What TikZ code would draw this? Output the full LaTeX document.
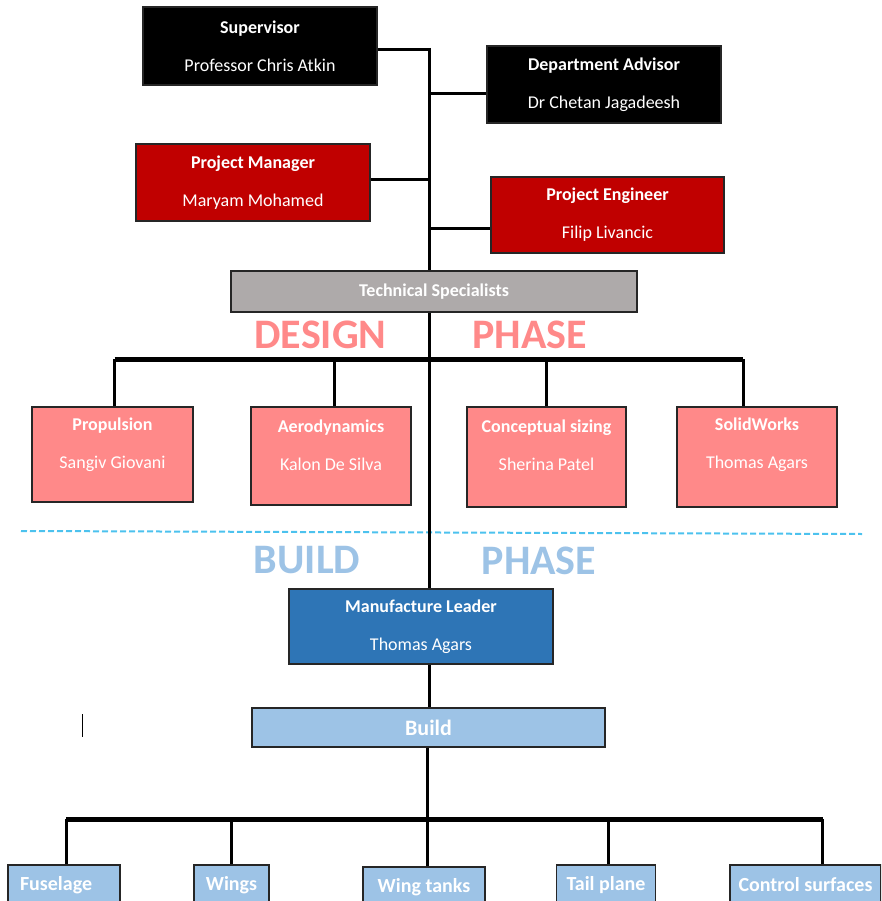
\documentclass[tikz,border=0pt]{standalone}
\usepackage{fontspec}
\setmainfont{Carlito}
\usepackage{xcolor}
\usepackage{tikz}
\usetikzlibrary{positioning}
\definecolor{darkred}{HTML}{C00000}
\definecolor{techgrey}{HTML}{AEAAAA}
\definecolor{designpink}{HTML}{FF8989}
\definecolor{mfgblue}{HTML}{2E75B6}
\definecolor{buildblue}{HTML}{9DC3E6}
\definecolor{dashblue}{HTML}{4CC2EE}

\begin{document}
\begin{tikzpicture}[x=1pt, y=-1pt,
    orgbox/.style={draw=black!85, line width=1.3pt, text=white, align=center, inner sep=0pt,
        font=\fontsize{18}{38}\selectfont},
    boxtext/.style={text=white, align=center, inner sep=0pt, font=\fontsize{18}{38}\selectfont},
    link/.style={line width=3pt},
    bar/.style={line width=5pt},
    phase/.style={inner sep=0pt, font=\fontsize{42}{42}\selectfont\bfseries}]
    \useasboundingbox (0,0) rectangle (881,901);
    \clip (0,0) rectangle (881,901);

    % management
    \node[orgbox, fill=black, minimum width=234, minimum height=78] (sup) at (260,46)
        {\textbf{Supervisor}\\Professor Chris Atkin};
    \node[orgbox, fill=black, minimum width=234, minimum height=77] (dept) at (604,84.5)
        {\textbf{Department Advisor}\\Dr Chetan Jagadeesh};
    \node[orgbox, fill=darkred, minimum width=234, minimum height=77] (pm) at (253,182.5)
        {\textbf{Project Manager}\\Maryam Mohamed};
    \node[orgbox, fill=darkred, minimum width=233, minimum height=76] (pe) at (607.5,215)
        {\textbf{Project Engineer}\\Filip Livancic};
    \node[orgbox, fill=techgrey, minimum width=406, minimum height=41] (tech) at (434,291.5)
        {\textbf{Technical Specialists}};

    \coordinate (top) at (429,48);
    \coordinate (jsup) at (429,50);
    \coordinate (jdept) at (429,94);
    \coordinate (jpm) at (429,180);
    \coordinate (jpe) at (429,229);
    \draw[link] (top) -- (top |- tech.north);
    \draw[link] (jsup) -- (jsup -| sup.east);
    \draw[link] (jdept) -- (jdept -| dept.west);
    \draw[link] (jpm) -- (jpm -| pm.east);
    \draw[link] (jpe) -- (jpe -| pe.west);

    % design phase
    \node[phase, text=designpink] (design) at (320.5,335) {DESIGN};
    \node[phase, text=designpink] (dphase) at (529.5,335) {PHASE};

    \node[orgbox, fill=designpink, minimum width=161, minimum height=95] (prop) at (112.5,454.5) {};
    \node[orgbox, fill=designpink, minimum width=160, minimum height=98] (aero) at (331,456) {};
    \node[orgbox, fill=designpink, minimum width=159, minimum height=100] (size) at (546.5,457) {};
    \node[orgbox, fill=designpink, minimum width=160, minimum height=100] (solid) at (757,457) {};
    \node[boxtext] (propT) at (112.5,445) {\textbf{Propulsion}\\Sangiv Giovani};
    \node[boxtext] (aeroT) at (331,445) {\textbf{Aerodynamics}\\Kalon De Silva};
    \node[boxtext] (sizeT) at (546.5,445) {\textbf{Conceptual sizing}\\Sherina Patel};
    \node[boxtext] (solidT) at (757,445) {\textbf{SolidWorks}\\Thomas Agars};

    \coordinate (dbar) at (429,359);
    \draw[bar] ([xshift=2pt]prop.north |- dbar) -- ([xshift=-14pt]solid.north |- dbar);
    \draw[link] ([xshift=2pt]prop.north) -- ([xshift=2pt]prop.north |- dbar);
    \draw[link] ([xshift=3pt]aero.north) -- ([xshift=3pt]aero.north |- dbar);
    \draw[link] (size.north) -- (size.north |- dbar);
    \draw[link] ([xshift=-14pt]solid.north) -- ([xshift=-14pt]solid.north |- dbar);

    \draw[dashblue, line width=2pt, dash pattern=on 6pt off 3pt] (21,531) -- (862,534);

    % build phase
    \node[phase, text=buildblue] (build) at (307,560.5) {BUILD};
    \node[phase, text=buildblue] (bphase) at (539,560.5) {PHASE};

    \node[orgbox, fill=mfgblue, minimum width=264, minimum height=75] (mfg) at (421,626.5)
        {\textbf{Manufacture Leader}\\Thomas Agars};
    \node[orgbox, fill=buildblue, minimum width=353, minimum height=39,
        font=\fontsize{22}{26}\selectfont\bfseries] (bld) at (428.5,727.5) {Build};
    \draw[link] (top |- tech.south) -- (top |- mfg.north);
    \draw[link] (top |- mfg.south) -- (top |- bld.north);

    \draw[line width=1pt] (82,714) -- (82,737);

    \node[orgbox, fill=buildblue, minimum width=112, minimum height=40, text width=88,
        align=left, font=\fontsize{20}{24}\selectfont\bfseries] (fuse) at (64,885) {Fuselage};
    \node[orgbox, fill=buildblue, minimum width=75, minimum height=40,
        font=\fontsize{20}{24}\selectfont\bfseries] (wings) at (231.5,885) {Wings};
    \node[orgbox, fill=buildblue, minimum width=122, minimum height=40,
        font=\fontsize{20}{24}\selectfont\bfseries] (tanks) at (424,887) {Wing tanks};
    \node[orgbox, fill=buildblue, minimum width=99, minimum height=40,
        font=\fontsize{20}{24}\selectfont\bfseries] (tail) at (606,885) {Tail plane};
    \node[orgbox, fill=buildblue, minimum width=151, minimum height=40,
        font=\fontsize{20}{24}\selectfont\bfseries] (ctrl) at (805.5,885) {Control surfaces};

    \coordinate (bbar) at (428,819);
    \draw[link] ([xshift=-1pt]bld.south) -- ([xshift=-1pt]bld.south |- bbar);
    \draw[bar] ([xshift=2pt]fuse.north |- bbar) -- ([xshift=17pt]ctrl.north |- bbar);
    \draw[link] ([xshift=2pt]fuse.north) -- ([xshift=2pt]fuse.north |- bbar);
    \draw[link] (wings.north) -- (wings.north |- bbar);
    \draw[link] ([xshift=3pt]tanks.north) -- ([xshift=3pt]tanks.north |- bbar);
    \draw[link] ([xshift=2pt]tail.north) -- ([xshift=2pt]tail.north |- bbar);
    \draw[link] ([xshift=17pt]ctrl.north) -- ([xshift=17pt]ctrl.north |- bbar);
\end{tikzpicture}
\end{document}
